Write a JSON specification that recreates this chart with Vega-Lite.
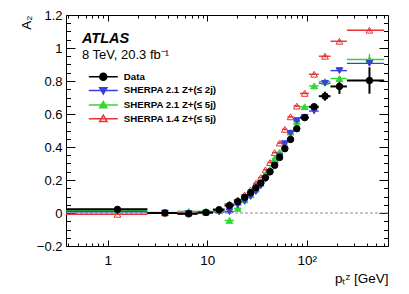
{
  "$schema": "https://vega.github.io/schema/vega-lite/v6.json",
  "width": 322,
  "height": 231,
  "autosize": {"type": "none"},
  "padding": {"left": 66, "top": 15, "right": 21, "bottom": 48},
  "background": "white",
  "config": {
    "view": {"stroke": "black", "strokeWidth": 1},
    "font": "Liberation Sans",
    "axis": {"domain": false, "grid": false, "tickColor": "black", "tickWidth": 1, "labelColor": "black", "titleColor": "black", "labelFont": "Liberation Sans", "titleFont": "Liberation Sans", "labelFontSize": 13, "titleFontSize": 13.5, "titleFontWeight": "normal", "labelFlush": false},
    "legend": {"labelFont": "Liberation Sans", "labelColor": "black", "symbolOpacity": 1}
  },
  "data": {"values": [
    {"s": "SHERPA 1.4 Z+(≤ 5j)", "x": 1.25, "lo": 0.38, "hi": 2.5, "y": -0.008, "ylo": -0.013, "yhi": -0.003},
    {"s": "SHERPA 1.4 Z+(≤ 5j)", "x": 3.75, "lo": 2.5, "hi": 5, "y": 0.0, "ylo": -0.005, "yhi": 0.005},
    {"s": "SHERPA 1.4 Z+(≤ 5j)", "x": 6.5, "lo": 5, "hi": 8, "y": 0.0, "ylo": -0.005, "yhi": 0.005},
    {"s": "SHERPA 1.4 Z+(≤ 5j)", "x": 9.7, "lo": 8, "hi": 11.4, "y": 0.005, "ylo": 0.0, "yhi": 0.01},
    {"s": "SHERPA 1.4 Z+(≤ 5j)", "x": 13.15, "lo": 11.4, "hi": 14.9, "y": 0.022, "ylo": 0.017, "yhi": 0.027},
    {"s": "SHERPA 1.4 Z+(≤ 5j)", "x": 16.7, "lo": 14.9, "hi": 18.5, "y": 0.055, "ylo": 0.05, "yhi": 0.06},
    {"s": "SHERPA 1.4 Z+(≤ 5j)", "x": 20.25, "lo": 18.5, "hi": 22, "y": 0.08, "ylo": 0.075, "yhi": 0.085},
    {"s": "SHERPA 1.4 Z+(≤ 5j)", "x": 23.75, "lo": 22, "hi": 25.5, "y": 0.11, "ylo": 0.105, "yhi": 0.115},
    {"s": "SHERPA 1.4 Z+(≤ 5j)", "x": 27.25, "lo": 25.5, "hi": 29, "y": 0.14, "ylo": 0.135, "yhi": 0.145},
    {"s": "SHERPA 1.4 Z+(≤ 5j)", "x": 30.8, "lo": 29, "hi": 32.6, "y": 0.18, "ylo": 0.175, "yhi": 0.185},
    {"s": "SHERPA 1.4 Z+(≤ 5j)", "x": 34.5, "lo": 32.6, "hi": 36.4, "y": 0.215, "ylo": 0.21, "yhi": 0.22},
    {"s": "SHERPA 1.4 Z+(≤ 5j)", "x": 38.4, "lo": 36.4, "hi": 40.4, "y": 0.262, "ylo": 0.257, "yhi": 0.267},
    {"s": "SHERPA 1.4 Z+(≤ 5j)", "x": 42.65, "lo": 40.4, "hi": 44.9, "y": 0.306, "ylo": 0.301, "yhi": 0.311},
    {"s": "SHERPA 1.4 Z+(≤ 5j)", "x": 47.55, "lo": 44.9, "hi": 50.2, "y": 0.366, "ylo": 0.361, "yhi": 0.371},
    {"s": "SHERPA 1.4 Z+(≤ 5j)", "x": 53.3, "lo": 50.2, "hi": 56.4, "y": 0.424, "ylo": 0.419, "yhi": 0.429},
    {"s": "SHERPA 1.4 Z+(≤ 5j)", "x": 60.15, "lo": 56.4, "hi": 63.9, "y": 0.507, "ylo": 0.502, "yhi": 0.512},
    {"s": "SHERPA 1.4 Z+(≤ 5j)", "x": 68.65, "lo": 63.9, "hi": 73.4, "y": 0.583, "ylo": 0.578, "yhi": 0.588},
    {"s": "SHERPA 1.4 Z+(≤ 5j)", "x": 79.4, "lo": 73.4, "hi": 85.4, "y": 0.648, "ylo": 0.643, "yhi": 0.653},
    {"s": "SHERPA 1.4 Z+(≤ 5j)", "x": 95.2, "lo": 85.4, "hi": 105, "y": 0.725, "ylo": 0.72, "yhi": 0.73},
    {"s": "SHERPA 1.4 Z+(≤ 5j)", "x": 118.5, "lo": 105, "hi": 132, "y": 0.841, "ylo": 0.836, "yhi": 0.846},
    {"s": "SHERPA 1.4 Z+(≤ 5j)", "x": 152.5, "lo": 132, "hi": 173, "y": 0.95, "ylo": 0.942, "yhi": 0.958},
    {"s": "SHERPA 1.4 Z+(≤ 5j)", "x": 213, "lo": 173, "hi": 253, "y": 1.041, "ylo": 1.033, "yhi": 1.049},
    {"s": "SHERPA 1.4 Z+(≤ 5j)", "x": 426.5, "lo": 253, "hi": 600, "y": 1.108, "ylo": 1.1, "yhi": 1.116},
    {"s": "SHERPA 2.1 Z+(≤ 5j)", "x": 1.25, "lo": 0.38, "hi": 2.5, "y": 0.016, "ylo": 0.011, "yhi": 0.021},
    {"s": "SHERPA 2.1 Z+(≤ 5j)", "x": 3.75, "lo": 2.5, "hi": 5, "y": 0.003, "ylo": -0.002, "yhi": 0.008},
    {"s": "SHERPA 2.1 Z+(≤ 5j)", "x": 6.5, "lo": 5, "hi": 8, "y": 0.01, "ylo": 0.005, "yhi": 0.015},
    {"s": "SHERPA 2.1 Z+(≤ 5j)", "x": 9.7, "lo": 8, "hi": 11.4, "y": 0.01, "ylo": 0.005, "yhi": 0.015},
    {"s": "SHERPA 2.1 Z+(≤ 5j)", "x": 13.15, "lo": 11.4, "hi": 14.9, "y": 0.015, "ylo": 0.01, "yhi": 0.02},
    {"s": "SHERPA 2.1 Z+(≤ 5j)", "x": 16.7, "lo": 14.9, "hi": 18.5, "y": -0.045, "ylo": -0.05, "yhi": -0.04},
    {"s": "SHERPA 2.1 Z+(≤ 5j)", "x": 20.25, "lo": 18.5, "hi": 22, "y": 0.028, "ylo": 0.023, "yhi": 0.033},
    {"s": "SHERPA 2.1 Z+(≤ 5j)", "x": 23.75, "lo": 22, "hi": 25.5, "y": 0.08, "ylo": 0.075, "yhi": 0.085},
    {"s": "SHERPA 2.1 Z+(≤ 5j)", "x": 27.25, "lo": 25.5, "hi": 29, "y": 0.11, "ylo": 0.105, "yhi": 0.115},
    {"s": "SHERPA 2.1 Z+(≤ 5j)", "x": 30.8, "lo": 29, "hi": 32.6, "y": 0.145, "ylo": 0.14, "yhi": 0.15},
    {"s": "SHERPA 2.1 Z+(≤ 5j)", "x": 34.5, "lo": 32.6, "hi": 36.4, "y": 0.18, "ylo": 0.175, "yhi": 0.185},
    {"s": "SHERPA 2.1 Z+(≤ 5j)", "x": 38.4, "lo": 36.4, "hi": 40.4, "y": 0.235, "ylo": 0.23, "yhi": 0.24},
    {"s": "SHERPA 2.1 Z+(≤ 5j)", "x": 42.65, "lo": 40.4, "hi": 44.9, "y": 0.265, "ylo": 0.26, "yhi": 0.27},
    {"s": "SHERPA 2.1 Z+(≤ 5j)", "x": 47.55, "lo": 44.9, "hi": 50.2, "y": 0.33, "ylo": 0.325, "yhi": 0.335},
    {"s": "SHERPA 2.1 Z+(≤ 5j)", "x": 53.3, "lo": 50.2, "hi": 56.4, "y": 0.368, "ylo": 0.363, "yhi": 0.373},
    {"s": "SHERPA 2.1 Z+(≤ 5j)", "x": 60.15, "lo": 56.4, "hi": 63.9, "y": 0.41, "ylo": 0.405, "yhi": 0.415},
    {"s": "SHERPA 2.1 Z+(≤ 5j)", "x": 68.65, "lo": 63.9, "hi": 73.4, "y": 0.49, "ylo": 0.485, "yhi": 0.495},
    {"s": "SHERPA 2.1 Z+(≤ 5j)", "x": 79.4, "lo": 73.4, "hi": 85.4, "y": 0.553, "ylo": 0.548, "yhi": 0.558},
    {"s": "SHERPA 2.1 Z+(≤ 5j)", "x": 95.2, "lo": 85.4, "hi": 105, "y": 0.644, "ylo": 0.639, "yhi": 0.649},
    {"s": "SHERPA 2.1 Z+(≤ 5j)", "x": 118.5, "lo": 105, "hi": 132, "y": 0.77, "ylo": 0.765, "yhi": 0.775},
    {"s": "SHERPA 2.1 Z+(≤ 5j)", "x": 152.5, "lo": 132, "hi": 173, "y": 0.797, "ylo": 0.789, "yhi": 0.805},
    {"s": "SHERPA 2.1 Z+(≤ 5j)", "x": 213, "lo": 173, "hi": 253, "y": 0.815, "ylo": 0.8, "yhi": 0.83},
    {"s": "SHERPA 2.1 Z+(≤ 5j)", "x": 426.5, "lo": 253, "hi": 600, "y": 0.93, "ylo": 0.895, "yhi": 0.965},
    {"s": "SHERPA 2.1 Z+(≤ 2j)", "x": 1.25, "lo": 0.38, "hi": 2.5, "y": 0.008, "ylo": 0.003, "yhi": 0.013},
    {"s": "SHERPA 2.1 Z+(≤ 2j)", "x": 3.75, "lo": 2.5, "hi": 5, "y": 0.0, "ylo": -0.005, "yhi": 0.005},
    {"s": "SHERPA 2.1 Z+(≤ 2j)", "x": 6.5, "lo": 5, "hi": 8, "y": -0.003, "ylo": -0.008, "yhi": 0.002},
    {"s": "SHERPA 2.1 Z+(≤ 2j)", "x": 9.7, "lo": 8, "hi": 11.4, "y": 0.0, "ylo": -0.005, "yhi": 0.005},
    {"s": "SHERPA 2.1 Z+(≤ 2j)", "x": 13.15, "lo": 11.4, "hi": 14.9, "y": 0.006, "ylo": 0.001, "yhi": 0.011},
    {"s": "SHERPA 2.1 Z+(≤ 2j)", "x": 16.7, "lo": 14.9, "hi": 18.5, "y": 0.008, "ylo": 0.003, "yhi": 0.013},
    {"s": "SHERPA 2.1 Z+(≤ 2j)", "x": 20.25, "lo": 18.5, "hi": 22, "y": 0.05, "ylo": 0.045, "yhi": 0.055},
    {"s": "SHERPA 2.1 Z+(≤ 2j)", "x": 23.75, "lo": 22, "hi": 25.5, "y": 0.07, "ylo": 0.065, "yhi": 0.075},
    {"s": "SHERPA 2.1 Z+(≤ 2j)", "x": 27.25, "lo": 25.5, "hi": 29, "y": 0.1, "ylo": 0.095, "yhi": 0.105},
    {"s": "SHERPA 2.1 Z+(≤ 2j)", "x": 30.8, "lo": 29, "hi": 32.6, "y": 0.13, "ylo": 0.125, "yhi": 0.135},
    {"s": "SHERPA 2.1 Z+(≤ 2j)", "x": 34.5, "lo": 32.6, "hi": 36.4, "y": 0.165, "ylo": 0.16, "yhi": 0.17},
    {"s": "SHERPA 2.1 Z+(≤ 2j)", "x": 38.4, "lo": 36.4, "hi": 40.4, "y": 0.205, "ylo": 0.2, "yhi": 0.21},
    {"s": "SHERPA 2.1 Z+(≤ 2j)", "x": 42.65, "lo": 40.4, "hi": 44.9, "y": 0.245, "ylo": 0.24, "yhi": 0.25},
    {"s": "SHERPA 2.1 Z+(≤ 2j)", "x": 47.55, "lo": 44.9, "hi": 50.2, "y": 0.29, "ylo": 0.285, "yhi": 0.295},
    {"s": "SHERPA 2.1 Z+(≤ 2j)", "x": 53.3, "lo": 50.2, "hi": 56.4, "y": 0.345, "ylo": 0.34, "yhi": 0.35},
    {"s": "SHERPA 2.1 Z+(≤ 2j)", "x": 60.15, "lo": 56.4, "hi": 63.9, "y": 0.42, "ylo": 0.415, "yhi": 0.425},
    {"s": "SHERPA 2.1 Z+(≤ 2j)", "x": 68.65, "lo": 63.9, "hi": 73.4, "y": 0.482, "ylo": 0.477, "yhi": 0.487},
    {"s": "SHERPA 2.1 Z+(≤ 2j)", "x": 79.4, "lo": 73.4, "hi": 85.4, "y": 0.56, "ylo": 0.555, "yhi": 0.565},
    {"s": "SHERPA 2.1 Z+(≤ 2j)", "x": 95.2, "lo": 85.4, "hi": 105, "y": 0.58, "ylo": 0.575, "yhi": 0.585},
    {"s": "SHERPA 2.1 Z+(≤ 2j)", "x": 118.5, "lo": 105, "hi": 132, "y": 0.618, "ylo": 0.613, "yhi": 0.623},
    {"s": "SHERPA 2.1 Z+(≤ 2j)", "x": 152.5, "lo": 132, "hi": 173, "y": 0.786, "ylo": 0.779, "yhi": 0.793},
    {"s": "SHERPA 2.1 Z+(≤ 2j)", "x": 213, "lo": 173, "hi": 253, "y": 0.863, "ylo": 0.853, "yhi": 0.873},
    {"s": "SHERPA 2.1 Z+(≤ 2j)", "x": 426.5, "lo": 253, "hi": 600, "y": 0.907, "ylo": 0.897, "yhi": 0.917},
    {"s": "Data", "x": 1.25, "lo": 0.38, "hi": 2.5, "y": 0.022, "ylo": 0.014, "yhi": 0.03},
    {"s": "Data", "x": 3.75, "lo": 2.5, "hi": 5, "y": 0.0, "ylo": -0.005, "yhi": 0.005},
    {"s": "Data", "x": 6.5, "lo": 5, "hi": 8, "y": -0.005, "ylo": -0.01, "yhi": 0.0},
    {"s": "Data", "x": 9.7, "lo": 8, "hi": 11.4, "y": 0.003, "ylo": -0.002, "yhi": 0.008},
    {"s": "Data", "x": 13.15, "lo": 11.4, "hi": 14.9, "y": 0.02, "ylo": 0.014, "yhi": 0.026},
    {"s": "Data", "x": 16.7, "lo": 14.9, "hi": 18.5, "y": 0.045, "ylo": 0.039, "yhi": 0.051},
    {"s": "Data", "x": 20.25, "lo": 18.5, "hi": 22, "y": 0.069, "ylo": 0.063, "yhi": 0.075},
    {"s": "Data", "x": 23.75, "lo": 22, "hi": 25.5, "y": 0.095, "ylo": 0.088, "yhi": 0.102},
    {"s": "Data", "x": 27.25, "lo": 25.5, "hi": 29, "y": 0.123, "ylo": 0.116, "yhi": 0.13},
    {"s": "Data", "x": 30.8, "lo": 29, "hi": 32.6, "y": 0.153, "ylo": 0.145, "yhi": 0.161},
    {"s": "Data", "x": 34.5, "lo": 32.6, "hi": 36.4, "y": 0.182, "ylo": 0.174, "yhi": 0.19},
    {"s": "Data", "x": 38.4, "lo": 36.4, "hi": 40.4, "y": 0.214, "ylo": 0.205, "yhi": 0.223},
    {"s": "Data", "x": 42.65, "lo": 40.4, "hi": 44.9, "y": 0.25, "ylo": 0.241, "yhi": 0.259},
    {"s": "Data", "x": 47.55, "lo": 44.9, "hi": 50.2, "y": 0.289, "ylo": 0.279, "yhi": 0.299},
    {"s": "Data", "x": 53.3, "lo": 50.2, "hi": 56.4, "y": 0.337, "ylo": 0.327, "yhi": 0.347},
    {"s": "Data", "x": 60.15, "lo": 56.4, "hi": 63.9, "y": 0.39, "ylo": 0.379, "yhi": 0.401},
    {"s": "Data", "x": 68.65, "lo": 63.9, "hi": 73.4, "y": 0.446, "ylo": 0.434, "yhi": 0.458},
    {"s": "Data", "x": 79.4, "lo": 73.4, "hi": 85.4, "y": 0.511, "ylo": 0.498, "yhi": 0.524},
    {"s": "Data", "x": 95.2, "lo": 85.4, "hi": 105, "y": 0.578, "ylo": 0.565, "yhi": 0.591},
    {"s": "Data", "x": 118.5, "lo": 105, "hi": 132, "y": 0.644, "ylo": 0.626, "yhi": 0.662},
    {"s": "Data", "x": 152.5, "lo": 132, "hi": 173, "y": 0.708, "ylo": 0.681, "yhi": 0.735},
    {"s": "Data", "x": 213, "lo": 173, "hi": 253, "y": 0.767, "ylo": 0.722, "yhi": 0.812},
    {"s": "Data", "x": 426.5, "lo": 253, "hi": 600, "y": 0.803, "ylo": 0.723, "yhi": 0.883}
  ]},
  "layer": [
    {
      "data": {"values": [{}]},
      "mark": {"type": "rule", "stroke": "#8c8c8c", "strokeWidth": 1, "strokeDash": [3, 2]},
      "encoding": {"y": {"datum": 0, "type": "quantitative", "axis": null}}
    },
    {
      "mark": {"type": "rule"},
      "encoding": {
        "x": {"field": "lo", "type": "quantitative", "scale": {"type": "log", "domain": [0.38, 655], "nice": false},
          "axis": {"orient": "bottom", "values": [1, 10, 100], "ticks": false, "labelPadding": 7, "labelFontSize": 13.5, "labelExpr": "datum.value == 1 ? '1' : datum.value == 10 ? '10' : '10²'", "title": "pₜᶻ [GeV]", "titleAnchor": "end", "titleAlign": "right", "titlePadding": 5}},
        "x2": {"field": "hi"},
        "y": {"field": "y", "type": "quantitative", "scale": {"domain": [-0.2, 1.2], "nice": false, "zero": false},
          "axis": {"orient": "left", "values": [-0.2, 0, 0.2, 0.4, 0.6, 0.8, 1, 1.2], "ticks": false, "labelPadding": 4, "labelExpr": "format(datum.value, '~g')", "title": "A₂", "titleAnchor": "end", "titlePadding": 3}},
        "stroke": {"condition": [{"test": "datum.s === 'Data'", "value": "#000000"}, {"test": "indexof(datum.s, '2j') >= 0", "value": "#3d3ddb"}, {"test": "indexof(datum.s, '2.1') >= 0", "value": "#33d633"}], "value": "#e63333"},
        "strokeWidth": {"condition": {"test": "datum.s === 'Data'", "value": 2}, "value": 1.4}
      }
    },
    {
      "mark": {"type": "rule"},
      "encoding": {
        "x": {"field": "x", "type": "quantitative",
          "axis": {"orient": "bottom", "values": [1, 10, 100], "labels": false, "tickSize": -6, "title": null}},
        "y": {"field": "ylo", "type": "quantitative",
          "axis": {"orient": "left", "values": [-0.2, 0, 0.2, 0.4, 0.6, 0.8, 1, 1.2], "labels": false, "tickSize": -9, "title": null}},
        "y2": {"field": "yhi"},
        "stroke": {"condition": [{"test": "datum.s === 'Data'", "value": "#000000"}, {"test": "indexof(datum.s, '2j') >= 0", "value": "#3d3ddb"}, {"test": "indexof(datum.s, '2.1') >= 0", "value": "#33d633"}], "value": "#e63333"},
        "strokeWidth": {"condition": {"test": "datum.s === 'Data'", "value": 2}, "value": 1.4}
      }
    },
    {
      "mark": {"type": "point", "filled": true, "opacity": 1, "strokeWidth": 1},
      "encoding": {
        "x": {"field": "x", "type": "quantitative",
          "axis": {"orient": "bottom", "values": [0.4, 0.5, 0.6, 0.7, 0.8, 0.9, 2, 3, 4, 5, 6, 7, 8, 9, 20, 30, 40, 50, 60, 70, 80, 90, 200, 300, 400, 500, 600], "labels": false, "tickSize": -3, "title": null}},
        "y": {"field": "y", "type": "quantitative",
          "axis": {"orient": "left", "values": [-0.15, -0.1, -0.05, 0.05, 0.1, 0.15, 0.25, 0.3, 0.35, 0.45, 0.5, 0.55, 0.65, 0.7, 0.75, 0.85, 0.9, 0.95, 1.05, 1.1, 1.15], "labels": false, "tickSize": -4.5, "title": null}},
        "shape": {"condition": [{"test": "datum.s === 'Data'", "value": "circle"}, {"test": "indexof(datum.s, '2j') >= 0", "value": "triangle-down"}], "value": "triangle-up"},
        "stroke": {"condition": [{"test": "datum.s === 'Data'", "value": "#000000"}, {"test": "indexof(datum.s, '2j') >= 0", "value": "#3d3ddb"}, {"test": "indexof(datum.s, '2.1') >= 0", "value": "#33d633"}], "value": "#e63333"},
        "fill": {"condition": [{"test": "datum.s === 'Data'", "value": "#000000"}, {"test": "indexof(datum.s, '2j') >= 0", "value": "#3d3ddb"}, {"test": "indexof(datum.s, '2.1') >= 0", "value": "#33d633"}], "value": "transparent"},
        "size": {"condition": {"test": "datum.s === 'Data'", "value": 42}, "value": 45}
      }
    },
    {
      "mark": {"type": "point", "filled": true, "opacity": 0},
      "encoding": {
        "x": {"field": "x", "type": "quantitative", "axis": null},
        "y": {"field": "y", "type": "quantitative", "axis": null},
        "shape": {"field": "s", "type": "nominal", "scale": {"domain": ["Data", "SHERPA 2.1 Z+(≤ 2j)", "SHERPA 2.1 Z+(≤ 5j)", "SHERPA 1.4 Z+(≤ 5j)"], "range": ["M-3.22,0H3.22M-0.78,0A0.78,0.78,0,1,0,0.78,0A0.78,0.78,0,1,0,-0.78,0Z", "M-3.22,0H3.22M-0.8,-0.6L0.8,-0.6L0,0.8Z", "M-3.22,0H3.22M-0.8,0.6L0.8,0.6L0,-0.8Z", "M-3.22,0H3.22M-0.8,0.6L0.8,0.6L0,-0.8Z"]},
          "legend": {"title": null, "orient": "none", "legendX": 31.8, "legendY": 56.2, "direction": "vertical", "padding": 0, "rowPadding": -0.3, "symbolSize": 81, "symbolStrokeWidth": 1.5, "symbolOpacity": 1, "labelFont": "Liberation Sans", "labelFontSize": 9.7, "labelFontWeight": "bold", "labelColor": "black", "labelOffset": 15}},
        "stroke": {"field": "s", "type": "nominal", "scale": {"domain": ["Data", "SHERPA 2.1 Z+(≤ 2j)", "SHERPA 2.1 Z+(≤ 5j)", "SHERPA 1.4 Z+(≤ 5j)"], "range": ["#000000", "#3d3ddb", "#33d633", "#e63333"]},
          "legend": {"title": null, "orient": "none", "legendX": 31.8, "legendY": 56.2, "direction": "vertical", "padding": 0, "rowPadding": -0.3, "symbolSize": 81, "symbolStrokeWidth": 1.5, "symbolOpacity": 1, "labelFont": "Liberation Sans", "labelFontSize": 9.7, "labelFontWeight": "bold", "labelColor": "black", "labelOffset": 15}},
        "fill": {"field": "s", "type": "nominal", "scale": {"domain": ["Data", "SHERPA 2.1 Z+(≤ 2j)", "SHERPA 2.1 Z+(≤ 5j)", "SHERPA 1.4 Z+(≤ 5j)"], "range": ["#000000", "#3d3ddb", "#33d633", "transparent"]},
          "legend": {"title": null, "orient": "none", "legendX": 31.8, "legendY": 56.2, "direction": "vertical", "padding": 0, "rowPadding": -0.3, "symbolSize": 81, "symbolStrokeWidth": 1.5, "symbolOpacity": 1, "labelFont": "Liberation Sans", "labelFontSize": 9.7, "labelFontWeight": "bold", "labelColor": "black", "labelOffset": 15}}
      }
    },
    {
      "data": {"values": [{}]},
      "mark": {"type": "text", "text": "ATLAS", "font": "Liberation Sans", "fontSize": 14.5, "fontWeight": "bold", "fontStyle": "italic", "align": "left", "baseline": "alphabetic", "color": "black"},
      "encoding": {
        "x": {"datum": 0.55, "type": "quantitative",
          "axis": {"orient": "top", "values": [1, 10, 100], "labels": false, "tickSize": -6, "title": null}},
        "y": {"datum": 1.028, "type": "quantitative",
          "axis": {"orient": "right", "values": [-0.2, 0, 0.2, 0.4, 0.6, 0.8, 1, 1.2], "labels": false, "tickSize": -9, "title": null}}
      }
    },
    {
      "data": {"values": [{}]},
      "mark": {"type": "text", "text": "8 TeV, 20.3 fb⁻¹", "font": "Liberation Sans", "fontSize": 13, "align": "left", "baseline": "alphabetic", "color": "black"},
      "encoding": {
        "x": {"datum": 0.55, "type": "quantitative",
          "axis": {"orient": "top", "values": [0.4, 0.5, 0.6, 0.7, 0.8, 0.9, 2, 3, 4, 5, 6, 7, 8, 9, 20, 30, 40, 50, 60, 70, 80, 90, 200, 300, 400, 500, 600], "labels": false, "tickSize": -3, "title": null}},
        "y": {"datum": 0.933, "type": "quantitative",
          "axis": {"orient": "right", "values": [-0.15, -0.1, -0.05, 0.05, 0.1, 0.15, 0.25, 0.3, 0.35, 0.45, 0.5, 0.55, 0.65, 0.7, 0.75, 0.85, 0.9, 0.95, 1.05, 1.1, 1.15], "labels": false, "tickSize": -4.5, "title": null}}
      }
    }
  ],
  "resolve": {"axis": {"x": "independent", "y": "independent"}}
}
